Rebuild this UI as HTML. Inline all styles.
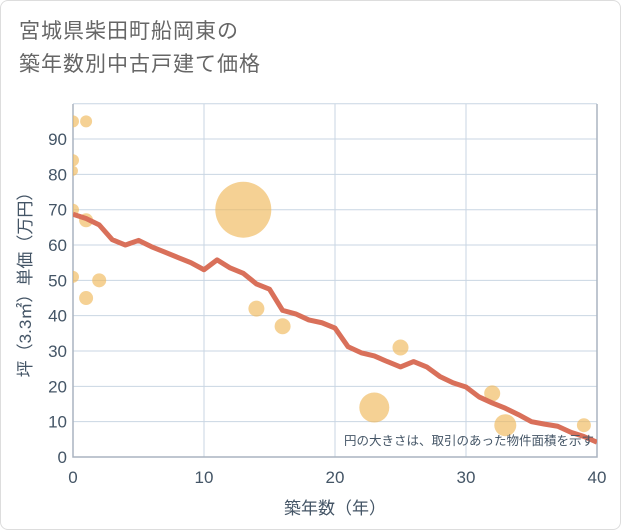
<!DOCTYPE html>
<html><head><meta charset="utf-8"><style>
body{margin:0;background:#fff;}
#wrap{width:619px;height:528px;border:1px solid #ddd;border-radius:8px;position:relative;font-family:"Liberation Sans","Noto Sans CJK JP",sans-serif;overflow:hidden}
#title{position:absolute;left:18px;top:14px;font-size:21px;line-height:33px;color:#666;letter-spacing:1px}
</style></head><body>
<div id="wrap">
<div id="title">宮城県柴田町船岡東の<br>築年数別中古戸建て価格</div>
<svg id="chart" width="621" height="530" style="position:absolute;left:0;top:0"><defs><clipPath id="pc"><rect x="72" y="103" width="524" height="353"/></clipPath></defs></svg>
</div>
<script>
const years=[0,1,2,3,4,5,6,7,8,9,10,11,12,13,14,15,16,17,18,19,20,21,22,23,24,25,26,27,28,29,30,31,32,33,34,35,36,37,38,39,40];
const trend=[68.7,67.5,65.7,61.5,60,61.3,59.5,58,56.5,55,53,55.8,53.5,52,49,47.5,41.5,40.5,38.8,38,36.5,31.2,29.5,28.6,27,25.5,27,25.5,22.8,21,19.8,17,15.3,13.8,12,10,9.3,8.7,7,5.8,4.2];
const bubX=[0,1,0,0,0,1,0,2,1,13,14,16,23,25,32,33,39];
const bubY=[95,95,84,81,70,67,51,50,45,70,42,37,14,31,18,9,9];
const bubArea=[36,36,36,25,36,49,36,49,49,784,64,64,225,64,64,121,49];
const xTicks=[0,10,20,30,40];
const yTicks=[0,10,20,30,40,50,60,70,80,90];
const NS='http://www.w3.org/2000/svg';
const svg=document.getElementById('chart');
const L=72,R=596,B=456,T=103;
const sx=v=>L+(v-0)/40*(R-L);
const sy=v=>B-v*3.533;
function mk(t,a){const e=document.createElementNS(NS,t);for(const k in a)e.setAttribute(k,a[k]);svg.appendChild(e);return e;}
yTicks.forEach(v=>{
 const g=mk('line',{x1:L,x2:R,y1:sy(v),y2:sy(v),stroke:'#c9d6e3','stroke-width':1});
 
 
 const t=mk('text',{x:L-6,y:sy(v)+6,'text-anchor':'end','font-size':17,fill:'#445566'});
 t.textContent=v;
 
 
});
mk('line',{x1:L,x2:R,y1:sy(100),y2:sy(100),stroke:'#c9d6e3'});
xTicks.forEach(v=>{
 const g=mk('line',{x1:sx(v),x2:sx(v),y1:T,y2:B,stroke:'#c9d6e3','stroke-width':1});
 
 
 const t=mk('text',{x:sx(v),y:B+26,'text-anchor':'middle','font-size':17,fill:'#445566'});
 t.textContent=v;
 
 
});
const ax=mk('path',{d:`M${L} ${T}V${B}H${R}V${T}`,fill:'none',stroke:'#aab4c0','stroke-width':1.5});


const gb=mk('g',{'clip-path':'url(#pc)'});
bubX.forEach((x,i)=>{
 const c=document.createElementNS(NS,'circle');
 c.setAttribute('cx',sx(x));c.setAttribute('cy',sy(bubY[i]));c.setAttribute('r',Math.sqrt(bubArea[i]));c.setAttribute('fill','rgba(240,185,90,0.65)');
 
 
 gb.appendChild(c);
});
const p=mk('polyline',{points:years.map((y,i)=>sx(y)+','+sy(trend[i])).join(' '),fill:'none',stroke:'#d9705a','stroke-width':5,'stroke-linejoin':'round','clip-path':'url(#pc)'});


const n=mk('text',{x:593,y:444,'text-anchor':'end','font-size':12.5,fill:'#445566'});
n.textContent='円の大きさは、取引のあった物件面積を示す';


const xt=mk('text',{x:sx(20),y:513,'text-anchor':'middle','font-size':17,fill:'#445566'});
xt.textContent='築年数（年）';


const yt=mk('text',{x:0,y:0,'text-anchor':'middle','font-size':17,fill:'#445566',transform:`translate(30,${(T+B)/2}) rotate(-90)`});
yt.textContent='坪（3.3㎡）単価（万円）';


</script>
</body></html>
